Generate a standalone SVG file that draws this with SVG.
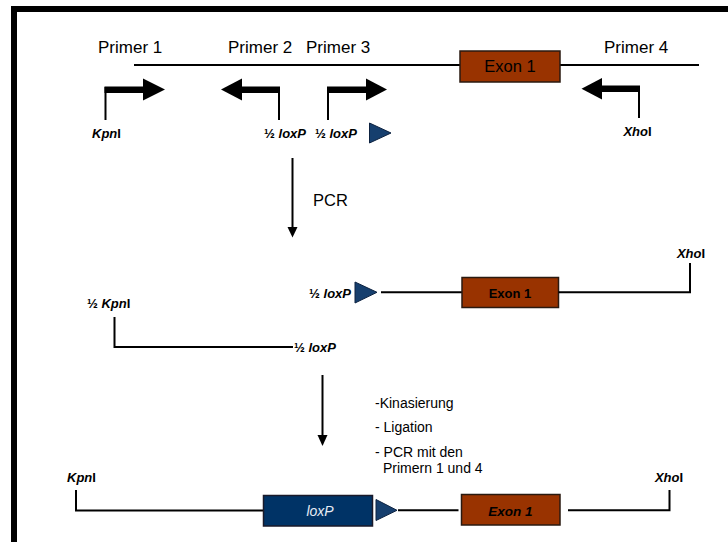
<svg xmlns="http://www.w3.org/2000/svg" width="728" height="542" viewBox="0 0 728 542">
  <style>
    .t { font-family: "Liberation Sans", Arial, sans-serif; fill: #000; }
    .title { font-size: 17px; }
    .lab { font-size: 13px; font-weight: bold; }
    .it { font-style: italic; }
    .step { font-size: 14px; }
    .dna { stroke: #000; stroke-width: 2; fill: none; }
    .thin { stroke: #000; stroke-width: 2; fill: none; }
    .exon { fill: #993300; stroke: #2a1a10; stroke-width: 1.5; }
    .lox { fill: #003366; stroke: #1a1a2a; stroke-width: 1.5; }
    .tri { fill: #163f6e; stroke: #0d2240; stroke-width: 1; }
    .head { fill: #000; }
  </style>

  <rect x="0" y="0" width="728" height="542" fill="#ffffff"/>
  <!-- outer frame -->
  <rect x="14" y="9" width="800" height="600" fill="none" stroke="#000" stroke-width="6"/>

  <!-- ===== genomic locus with primers ===== -->
  <g id="locus">
    <line class="dna" x1="134" y1="65" x2="699" y2="65"/>
  </g>
  <g id="exon-top">
    <rect class="exon" x="460" y="51" width="100" height="31"/>
    <text class="t" x="510" y="72" font-size="16.5" text-anchor="middle">Exon 1</text>
  </g>

  <g id="primer1">
    <text class="t title" x="98" y="53">Primer 1</text>
    <line class="thin" x1="105.5" y1="87" x2="105.5" y2="120"/>
    <rect x="104.5" y="86.5" width="40" height="6.5" fill="#000"/>
    <polygon class="head" points="143,78.5 165,89.5 143,100.5"/>
    <text class="t lab" x="92" y="138"><tspan class="it">Kpn</tspan>I</text>
  </g>

  <g id="primer2">
    <text class="t title" x="228" y="53">Primer 2</text>
    <line class="thin" x1="279" y1="87" x2="279" y2="120"/>
    <rect x="241" y="86.5" width="39" height="6.5" fill="#000"/>
    <polygon class="head" points="242,78.5 221,89.5 242,100.5"/>
    <text class="t lab" x="306" y="138" text-anchor="end">½ <tspan class="it">loxP</tspan></text>
  </g>

  <g id="primer3">
    <text class="t title" x="306" y="53">Primer 3</text>
    <line class="thin" x1="328" y1="87" x2="328" y2="120"/>
    <rect x="327" y="86.5" width="40" height="6.5" fill="#000"/>
    <polygon class="head" points="366,78.5 387,89.5 366,100.5"/>
    <text class="t lab" x="315" y="138">½ <tspan class="it">loxP</tspan></text>
    <polygon class="tri" points="369.5,123 391,133 369.5,143"/>
  </g>

  <g id="primer4">
    <text class="t title" x="604" y="53">Primer 4</text>
    <line class="thin" x1="639" y1="86" x2="639" y2="118"/>
    <rect x="601" y="85.5" width="39" height="6.5" fill="#000"/>
    <polygon class="head" points="602,78 581.5,88.7 602,99.5"/>
    <text class="t lab" x="637.5" y="136" text-anchor="middle"><tspan class="it">Xho</tspan>I</text>
  </g>

  <!-- ===== process arrows ===== -->
  <g id="connectors">
    <line class="thin" x1="292.5" y1="158" x2="292.5" y2="228"/>
    <polygon class="head" points="287.5,227 297.5,227 292.5,237.5"/>
    <line class="thin" x1="322.5" y1="375" x2="322.5" y2="436"/>
    <polygon class="head" points="317.5,435 327.5,435 322.5,446"/>
  </g>

  <g id="pcr-label">
    <text class="t" x="313" y="206" font-size="16.5">PCR</text>
  </g>

  <!-- ===== PCR products ===== -->
  <g id="product-right">
    <text class="t lab" x="351" y="298" text-anchor="end">½ <tspan class="it">loxP</tspan></text>
    <polygon class="tri" points="355,282 377,292.3 355,303"/>
    <polyline class="dna" points="381,292.3 462,292.3"/>
    <rect class="exon" x="462" y="277.5" width="96.5" height="30"/>
    <text class="t" x="510" y="297.5" font-size="13" font-weight="bold" text-anchor="middle">Exon 1</text>
    <polyline class="dna" points="558.5,292.3 690,292.3 690,263"/>
    <text class="t lab" x="691" y="258" text-anchor="middle"><tspan class="it">Xho</tspan>I</text>
  </g>

  <g id="product-left">
    <text class="t lab" x="87" y="308">½ <tspan class="it">Kpn</tspan>I</text>
    <polyline class="dna" points="114.5,317 114.5,347 293,347"/>
    <text class="t lab" x="294" y="351.5">½ <tspan class="it">loxP</tspan></text>
  </g>

  <!-- ===== steps ===== -->
  <g id="steps">
    <text class="t step" x="375" y="408">-Kinasierung</text>
    <text class="t step" x="375" y="432">- Ligation</text>
    <text class="t step" x="375" y="457">- PCR mit den</text>
    <text class="t step" x="383" y="473">Primern 1 und 4</text>
  </g>

  <!-- ===== final construct ===== -->
  <g id="construct">
    <text class="t lab" x="67" y="482"><tspan class="it">Kpn</tspan>I</text>
    <polyline class="dna" points="76,490 76,510.5 264,510.5"/>
    <rect class="lox" x="263.5" y="495.5" width="109" height="30.5"/>
    <text class="t it" x="320" y="515.5" font-size="14" text-anchor="middle" fill="#e6ecf5" style="fill:#e6ecf5">loxP</text>
    <polygon class="tri" points="376,499.5 397,510.3 376,520.5"/>
    <line class="dna" x1="398" y1="510.3" x2="458.5" y2="510.3"/>
    <rect class="exon" x="461.5" y="494.5" width="98.5" height="30.5"/>
    <text class="t it" x="510.5" y="515.5" font-size="13.5" font-weight="bold" text-anchor="middle">Exon 1</text>
    <polyline class="dna" points="568,510.3 669.5,510.3 669.5,490"/>
    <text class="t lab" x="669" y="482" text-anchor="middle"><tspan class="it">Xho</tspan>I</text>
  </g>
</svg>
